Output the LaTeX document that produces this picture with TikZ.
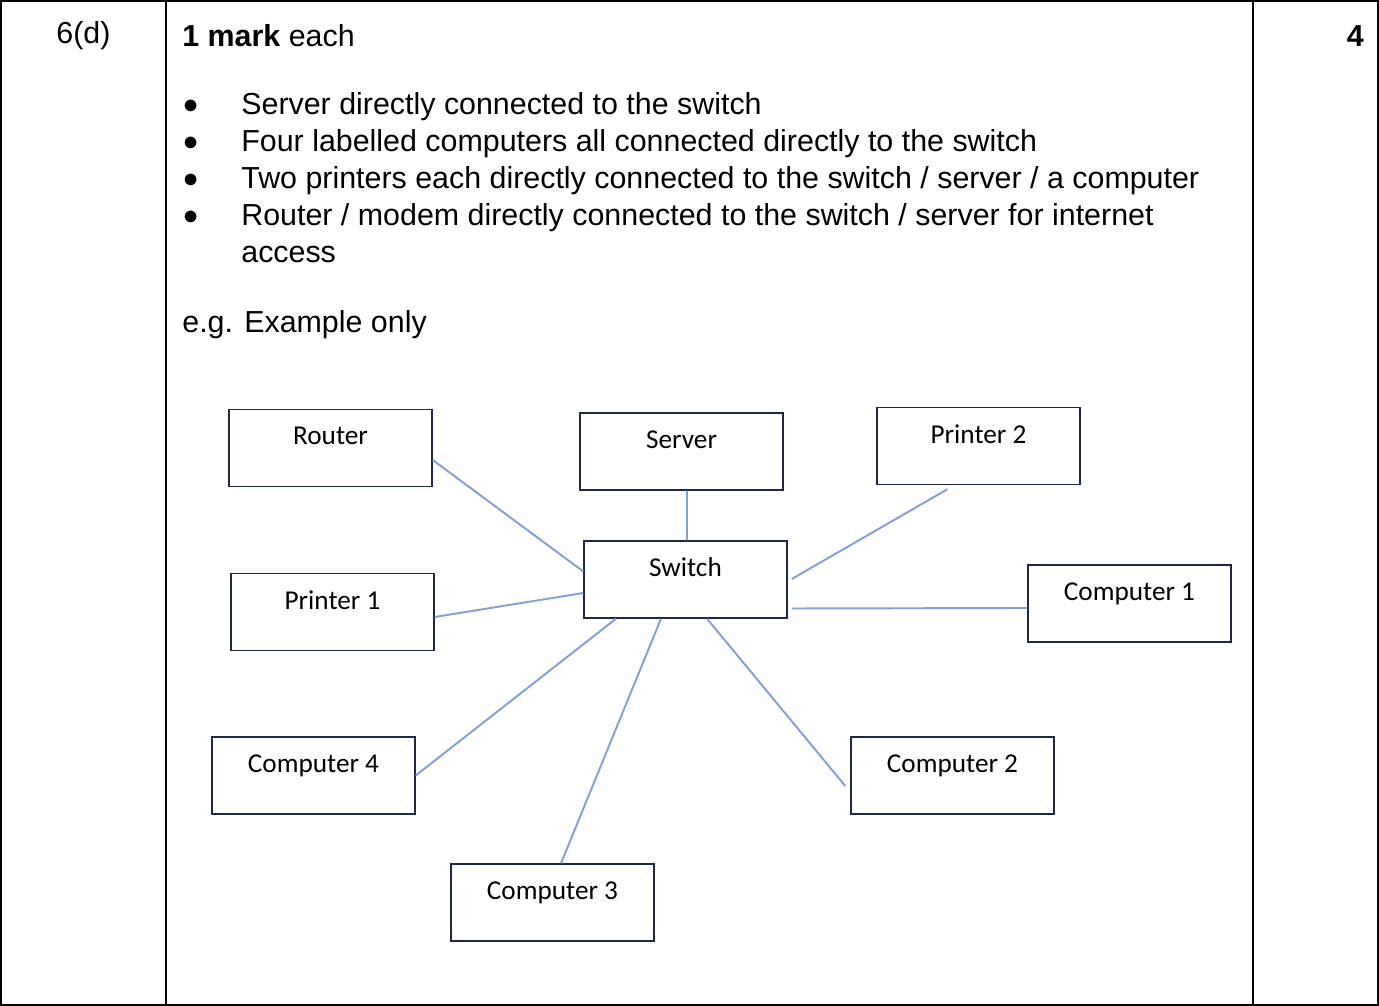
\documentclass[tikz,border=0pt]{standalone}
\usepackage{fontspec}
\setmainfont{Liberation Sans}
\newfontfamily\boxfont{Carlito}
\usetikzlibrary{positioning}

\tikzset{
    netbox/.style={draw=boxline, thick, minimum width=203*0.02cm, minimum height=77*0.02cm,
        inner sep=0pt, font=\boxfont\fontsize{15.5}{17}\selectfont},
    netlink/.style={draw=linkblue, line width=1.1pt},
    bodytext/.style={anchor=west, inner sep=0pt, font=\fontsize{17.3}{20}\selectfont},
}
\definecolor{linkblue}{RGB}{130,160,215}
\definecolor{boxline}{RGB}{30,40,70}

\begin{document}
\begin{tikzpicture}[x=0.02cm, y=-0.02cm]

\useasboundingbox (0,0) rectangle (1379,1006);

% Table grid
\draw[thick] (1,1) rectangle (1378,1005);
\draw[thick] (166,1) -- (166,1005);
\draw[thick] (1253,1) -- (1253,1005);

% Texts
\node[bodytext] (part) at (56,36) {6(d)};
\node[bodytext] (head) at (182,36) {\textbf{1} \textbf{mark} each};
\node[bodytext, anchor=east] (marks) at (1364,36) {\textbf{4}};
\foreach \yy/\txt in {
    107/{Server directly connected to the switch},
    144/{Four labelled computers all connected directly to the switch},
    181/{Two printers each directly connected to the switch / server / a computer},
    218/{Router / modem directly connected to the switch / server for internet}} {
    \node[bodytext] at (183,\yy) {$\bullet$};
    \node[bodytext] at (241,\yy) {\txt};
}
\node[bodytext] (access) at (241,254) {access};
\node[bodytext] (eg) at (182,325) {e.g. Example only};

% Boxes
\node[netbox] (router) at (330.5,448) {\raisebox{14pt}{Router}};
\node[netbox] (server) at (681.5,451.5) {\raisebox{14pt}{Server}};
\node[netbox] (printer2) at (978.5,446) {\raisebox{14pt}{Printer 2}};
\node[netbox] (switch) at (685.5,579.5) {\raisebox{14pt}{Switch}};
\node[netbox] (printer1) at (332.5,612) {\raisebox{14pt}{Printer 1}};
\node[netbox] (computer1) at (1129.5,603.5) {\raisebox{14pt}{Computer 1}};
\node[netbox] (computer4) at (313.5,775.5) {\raisebox{14pt}{Computer 4}};
\node[netbox] (computer2) at (952.5,775.5) {\raisebox{14pt}{Computer 2}};
\node[netbox] (computer3) at (552.5,902.5) {\raisebox{14pt}{Computer 3}};

% Links
\draw[netlink] ([yshift=-0.24cm]router.east) -- ([yshift=0.16cm]switch.west);
\draw[netlink] ([xshift=0.11cm]server.south) -- ([xshift=0.03cm]switch.north);
\draw[netlink] ([xshift=-0.62cm,yshift=-0.08cm]printer2.south) -- ([xshift=0.08cm,yshift=0.01cm]switch.east);
\draw[netlink] ([xshift=0.08cm,yshift=-0.58cm]switch.east) -- ([yshift=-0.09cm]computer1.west);
\draw[netlink] ([yshift=-0.1cm]printer1.east) -- ([yshift=-0.27cm]switch.west);
\draw[netlink] (computer4.east) -- ([xshift=-1.39cm]switch.south);
\draw[netlink] ([xshift=0.17cm]computer3.north) -- ([xshift=-0.49cm]switch.south);
\draw[netlink] ([xshift=-0.1cm,yshift=-0.21cm]computer2.west) -- ([xshift=0.43cm]switch.south);

\end{tikzpicture}
\end{document}
